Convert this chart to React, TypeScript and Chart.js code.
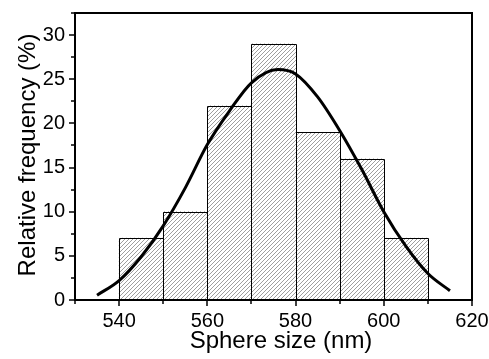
import React, { useEffect, useRef } from "react";
import { Chart, registerables } from "chart.js";

Chart.register(...registerables);

// Histogram bins (bin centres, nm) and relative frequencies (%)
const binCenters = [545, 555, 565, 575, 585, 595, 605];
const frequencies = [7, 10, 22, 29, 19, 16, 7];

// Fitted distribution curve
const curveX = [535, 540, 545, 550, 555, 560, 565, 570, 576, 580, 585, 590, 595, 600, 605, 610, 615];
const curveY = [0.55, 2.2, 4.9, 8.4, 12.7, 17.6, 21.4, 24.6, 26.1, 25.6, 23.0, 19.2, 14.8, 10.0, 6.1, 3.0, 1.05];

const xMin = 530;
const xMax = 620;
const yMin = 0;
const yMax = 32.5;

const xTitle = "Sphere size (nm)";
const yTitle = "Relative frequency (%)";

const FONT = "'Liberation Sans', Arial, sans-serif";

function makeHatch(): CanvasPattern | string {
  const s = 8;
  const c = document.createElement("canvas");
  c.width = s;
  c.height = s;
  const g = c.getContext("2d");
  if (!g) return "#ccc";
  g.fillStyle = "#ffffff";
  g.fillRect(0, 0, s, s);
  g.strokeStyle = "#9e9e9e";
  g.lineWidth = 1;
  for (const k of [0, 4, 8, 12, 16]) {
    g.beginPath();
    g.moveTo(-2, k + 2);
    g.lineTo(k + 2, -2);
    g.stroke();
  }
  const p = g.createPattern(c, "repeat");
  return p || "#ccc";
}

const framePlugin = {
  id: "framePlugin",
  afterDatasetDraw(chart: any, args: any) {
    if (args.meta.type !== "bar") return;
    const ctx = chart.ctx;
    ctx.save();
    ctx.strokeStyle = "#000";
    ctx.lineWidth = 1;
    for (const el of args.meta.data) {
      const p = el.getProps(["x", "y", "base", "width"], true);
      const l = Math.round(p.x - p.width / 2) + 0.5;
      const r = Math.round(p.x + p.width / 2) + 0.5;
      const t = Math.round(p.y) + 0.5;
      const b = Math.round(p.base);
      ctx.beginPath();
      ctx.moveTo(l, b);
      ctx.lineTo(l, t);
      ctx.lineTo(r, t);
      ctx.lineTo(r, b);
      ctx.stroke();
    }
    ctx.restore();
  },
  afterDraw(chart: any) {
    const ctx = chart.ctx;
    const { left, right, top, bottom } = chart.chartArea;
    const xs = chart.scales.x;
    const ys = chart.scales.y;
    ctx.save();
    ctx.strokeStyle = "#000";
    ctx.lineWidth = 2;
    ctx.strokeRect(left, top, right - left, bottom - top);
    ctx.lineWidth = 1.5;
    for (const t of xs.ticks) {
      const px = Math.round(xs.getPixelForValue(t.value));
      const major = t.value % 20 === 0;
      const len = major ? 6 : 4;
      ctx.beginPath();
      ctx.moveTo(px, bottom);
      ctx.lineTo(px, bottom + len);
      ctx.stroke();
    }
    for (const t of ys.ticks) {
      const py = Math.round(ys.getPixelForValue(t.value));
      const major = Math.abs(t.value % 5) < 1e-6;
      const len = major ? 6 : 4;
      ctx.beginPath();
      ctx.moveTo(left, py);
      ctx.lineTo(left - len, py);
      ctx.stroke();
    }
    ctx.fillStyle = "#000";
    ctx.font = `24px ${FONT}`;
    ctx.textAlign = "center";
    ctx.textBaseline = "alphabetic";
    ctx.fillText(xTitle, 281, 348);
    ctx.translate(35, 155);
    ctx.rotate(-Math.PI / 2);
    ctx.fillText(yTitle, 0, 0);
    ctx.restore();
  },
};

export default function App() {
  const ref = useRef<HTMLCanvasElement | null>(null);
  useEffect(() => {
    if (!ref.current) return;
    const hatch = makeHatch();
    const chart = new Chart(ref.current, {
      type: "bar",
      data: {
        datasets: [
          {
            type: "line",
            label: "fit",
            data: curveX.map((x, i) => ({ x, y: curveY[i] })),
            borderColor: "#000",
            borderWidth: 3,
            pointRadius: 0,
            cubicInterpolationMode: "monotone",
            fill: false,
            order: 0,
          } as any,
          {
            type: "bar",
            label: "histogram",
            data: binCenters.map((x, i) => ({ x, y: frequencies[i] })),
            backgroundColor: hatch as any,
            borderWidth: 0,
            barPercentage: 1,
            categoryPercentage: 1,
            order: 1,
          } as any,
        ],
      },
      options: {
        animation: false,
        responsive: false,
        devicePixelRatio: 1,
        layout: { padding: { left: 0, top: 13, right: 17, bottom: 0 } },
        plugins: { legend: { display: false }, tooltip: { enabled: false } },
        scales: {
          x: {
            type: "linear",
            min: xMin,
            max: xMax,
            offset: false,
            grid: { display: false, drawTicks: false },
            border: { display: false },
            ticks: {
              stepSize: 10,
              autoSkip: false,
              maxRotation: 0,
              padding: 9,
              color: "#000",
              font: { family: FONT, size: 20 },
              callback: (v: any) => (Number(v) % 20 === 0 ? String(v) : ""),
            },
            afterFit: (s: any) => {
              s.height = 59;
              s.paddingLeft = 0;
              s.paddingRight = 0;
            },
          },
          y: {
            type: "linear",
            min: yMin,
            max: yMax,
            grid: { display: false, drawTicks: false },
            border: { display: false },
            ticks: {
              stepSize: 2.5,
              autoSkip: false,
              padding: 10,
              color: "#000",
              font: { family: FONT, size: 20 },
              callback: (v: any) => (Math.abs(Number(v) % 5) < 1e-6 ? String(v) : ""),
            },
            afterFit: (s: any) => {
              s.width = 75;
              s.paddingTop = 0;
              s.paddingBottom = 0;
            },
          },
        },
      },
      plugins: [framePlugin],
    });
    return () => chart.destroy();
  }, []);
  return (
    <div style={{ position: "fixed", left: 0, top: 0, width: 489, height: 359, background: "#fff" }}>
      <canvas ref={ref} width={489} height={359} />
    </div>
  );
}
